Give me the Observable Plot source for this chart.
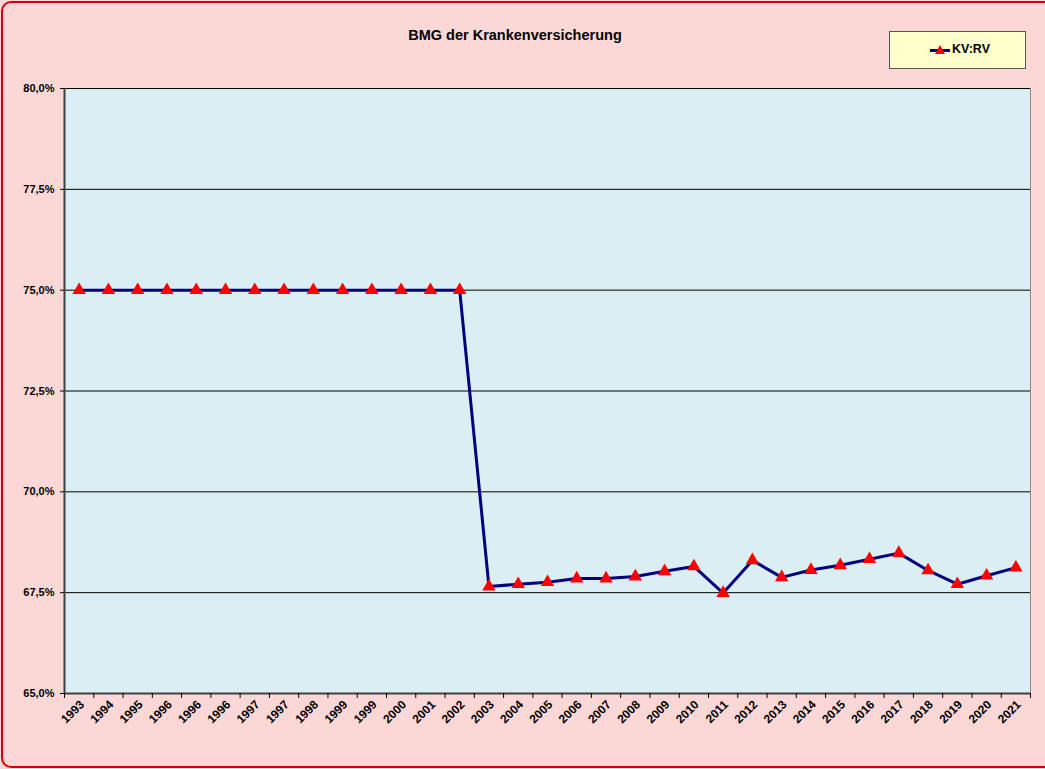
<!DOCTYPE html>
<html>
<head>
<meta charset="utf-8">
<script src="https://cdn.jsdelivr.net/npm/d3@7"></script>
<script src="https://cdn.jsdelivr.net/npm/@observablehq/plot@0.6"></script>
<style>
  html, body { margin: 0; padding: 0; background: #fff; }
  #wrap { position: relative; width: 1045px; height: 769px; background: #FBD8D6; overflow: hidden; font-family: Arial, "Liberation Sans", sans-serif; }
  #border { position: absolute; left: 1px; top: 1px; width: 1052px; height: 763px; border: 2px solid #d40000; border-radius: 10px; pointer-events: none; }
  #title { position: absolute; left: 0; top: 27px; width: 1030px; text-align: center; font-weight: bold; font-size: 14.5px; color: #000; }
  #legend { position: absolute; left: 889px; top: 31px; width: 135px; height: 36px; background: #FFFFCC; border: 1px solid #555; box-sizing: content-box; }
  #legend span { position: absolute; left: 62px; top: 10px; font-weight: bold; font-size: 12.5px; color: #000; }
  #chart { position: absolute; left: 0; top: 0; }
</style>
</head>
<body>
<div id="wrap">
  <div id="chart"></div>
  <div id="title">BMG der Krankenversicherung</div>
  <div id="legend">
    <svg width="60" height="36" style="position:absolute;left:0;top:0">
      <line x1="40" x2="61" y1="18.5" y2="18.5" stroke="#000080" stroke-width="3"></line>
      <path d="M50,13 L55,22 L45,22 Z" fill="#ff0000"></path>
    </svg>
    <span>KV:RV</span>
  </div>
  <div id="border"></div>
</div>
<script>
const labels = ["1993","1994","1995","1996","1996","1996","1997","1997","1998","1999","1999","2000","2001","2002",
  "2003","2004","2005","2006","2007","2008","2009","2010","2011","2012","2013","2014","2015","2016","2017","2018","2019","2020","2021"];
const values = [75,75,75,75,75,75,75,75,75,75,75,75,75,75,
  67.65,67.71,67.76,67.85,67.85,67.90,68.03,68.15,67.49,68.30,67.88,68.06,68.18,68.33,68.48,68.05,67.71,67.92,68.12];
const yTicks = [65, 67.5, 70, 72.5, 75, 77.5, 80];

const data = values.map((v, i) => ({i, v, label: labels[i]}));
const bounds = d3.range(-0.5, labels.length, 1);
const fmt = d => d.toFixed(1).replace(".", ",") + "%";

const chart = Plot.plot({
  width: 1045,
  height: 769,
  marginLeft: 64,
  marginRight: 15,
  marginTop: 88,
  marginBottom: 76,
  style: {background: "transparent", fontFamily: "Arial, 'Liberation Sans', sans-serif", fontWeight: "bold", fontSize: "11px", color: "#000"},
  x: {type: "linear", domain: [-0.5, labels.length - 0.5]},
  y: {domain: [65, 80]},
  marks: [
    Plot.frame({fill: "#DAEEF3", stroke: "#8a8a8a"}),
    Plot.gridY(yTicks, {stroke: "#000", strokeOpacity: 1, strokeWidth: 1}),
    Plot.ruleX([-0.5], {stroke: "#404040", strokeWidth: 2}),
    Plot.ruleY([65], {stroke: "#404040", strokeWidth: 2}),
    Plot.axisY({ticks: yTicks, tickSize: 4, tickPadding: 6, tickFormat: fmt, label: null, stroke: "#000", fontSize: 11, fontWeight: "bold"}),
    Plot.axisX({ticks: bounds, tickSize: 5, tickFormat: () => "", label: null, stroke: "#000"}),
    Plot.text(data, {x: "i", text: "label", frameAnchor: "bottom", rotate: -45, textAnchor: "end", lineAnchor: "middle", dx: 3, dy: 9, fontSize: 12, fontWeight: "bold", fill: "#000"}),
    Plot.line(data, {x: "i", y: "v", stroke: "#000080", strokeWidth: 3}),
    Plot.dot(data, {x: "i", y: "v", symbol: "triangle", r: 5, fill: "#ff0000", stroke: "none"})
  ]
});
document.getElementById("chart").appendChild(chart);
</script>
</body>
</html>
